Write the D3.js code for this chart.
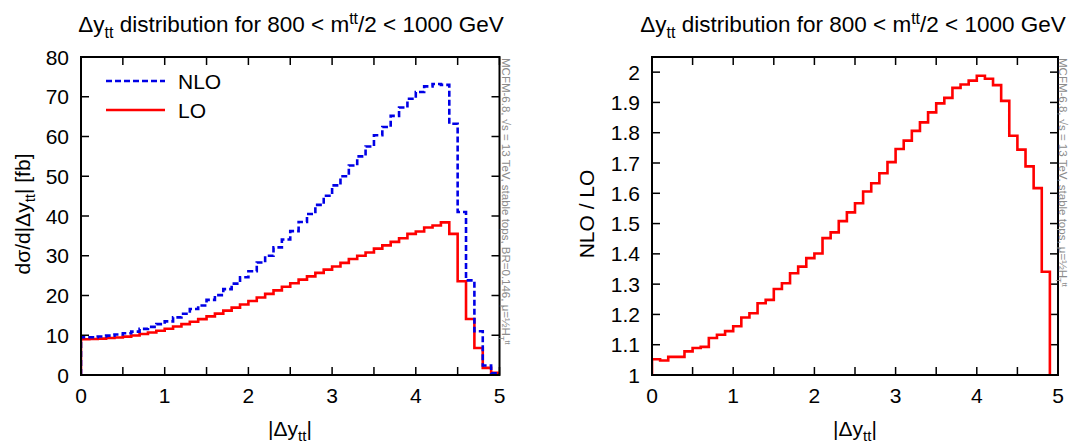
<!DOCTYPE html>
<html>
<head>
<meta charset="utf-8">
<script src="https://cdn.jsdelivr.net/npm/d3@7/dist/d3.min.js"></script>
<style>
  html, body { margin: 0; padding: 0; background: #fff; }
  svg { display: block; }
  text { font-family: "Liberation Sans", Arial, Helvetica, sans-serif; fill: #000; }
</style>
</head>
<body>
<svg id="chart" width="1070" height="443"></svg>
<script>
// ---------------- data ----------------
const binWidth = 0.1;
// LO differential cross section per bin of |Δy_tt| (fb), bins 0.0–0.1 ... 4.9–5.0
const loValues = [
  9.0, 9.05, 9.15, 9.3, 9.45, 9.65, 9.95, 10.3, 10.7, 11.15,
  11.65, 12.2, 12.8, 13.4, 14.05, 14.75, 15.45, 16.2, 16.95, 17.75,
  18.6, 19.5, 20.4, 21.3, 22.2, 23.1, 24.0, 24.8, 25.7, 26.5,
  27.3, 28.2, 29.2, 30.0, 30.8, 31.8, 32.6, 33.5, 34.4, 35.5,
  36.1, 37.1, 37.6, 38.4, 35.5, 23.6, 14.1, 6.8, 1.8, 0.55
];
// NLO differential cross section (fb)
const nloValues = [
  9.5, 9.5, 9.7, 9.9, 10.2, 10.5, 10.9, 11.6, 12.1, 12.8,
  13.5, 14.5, 15.4, 16.6, 17.5, 18.9, 20.1, 21.6, 23.0, 24.6,
  26.1, 28.3, 30.0, 32.1, 34.1, 36.2, 38.5, 40.5, 42.8, 45.1,
  47.7, 50.0, 52.7, 55.0, 57.5, 60.3, 62.4, 65.2, 67.3, 69.5,
  71.2, 72.6, 73.2, 73.0, 63.2, 41.0, 23.8, 11.0, 2.4, 0.45
];
// NLO / LO ratio per bin
const ratioValues = [
  1.052, 1.048, 1.060, 1.060, 1.078, 1.089, 1.093, 1.122, 1.133, 1.145,
  1.161, 1.190, 1.204, 1.237, 1.248, 1.284, 1.303, 1.336, 1.358, 1.386,
  1.401, 1.452, 1.471, 1.508, 1.537, 1.567, 1.606, 1.633, 1.666, 1.703,
  1.746, 1.774, 1.806, 1.834, 1.867, 1.897, 1.915, 1.948, 1.959, 1.972,
  1.988, 1.978, 1.957, 1.905, 1.790, 1.744, 1.689, 1.617, 1.341, 0.80
];
const xTickValues = [0, 1, 2, 3, 4, 5];
const xMinorTicks = [0.5, 1.5, 2.5, 3.5, 4.5];
const leftYTicks = [0, 10, 20, 30, 40, 50, 60, 70, 80];
const rightYTicks = [1, 1.1, 1.2, 1.3, 1.4, 1.5, 1.6, 1.7, 1.8, 1.9, 2];
const seriesNames = ["NLO", "LO"];

// ---------------- helpers ----------------
const svg = d3.select("#chart");
const FONT = 21;
const SUB = 15;

function stepPoints(vals, base) {
  const pts = [[0, base]];
  vals.forEach((v, i) => pts.push([i * binWidth, v]));
  pts.push([vals.length * binWidth, vals[vals.length - 1]]);
  pts.push([vals.length * binWidth, base]);
  return pts;
}

function titleText(g, cx, y) {
  const t = g.append("text").attr("x", cx).attr("y", y)
    .attr("text-anchor", "middle").attr("font-size", 22.5);
  t.append("tspan").text("Δy");
  t.append("tspan").attr("dy", 6).attr("font-size", 16).text("tt");
  t.append("tspan").attr("dy", -6).text(" distribution for 800 < m");
  t.append("tspan").attr("dy", -8).attr("font-size", 16).text("tt");
  t.append("tspan").attr("dy", 8).text("/2 < 1000 GeV");
}

function xLabel(g, cx, y) {
  const t = g.append("text").attr("x", cx).attr("y", y)
    .attr("text-anchor", "middle").attr("font-size", FONT);
  t.append("tspan").text("|Δy");
  t.append("tspan").attr("dy", 5).attr("font-size", SUB).text("tt");
  t.append("tspan").attr("dy", -5).text("|");
}

function annotation(g, x, y, withBR) {
  const t = g.append("text")
    .attr("transform", `translate(${x},${y}) rotate(90)`)
    .attr("font-size", 11.5).style("fill", "#8c8c8c");
  t.append("tspan").text("MCFM-6.8, √s = 13 TeV, stable tops, " + (withBR ? "BR=0.146, " : "") + "μ=½H");
  t.append("tspan").attr("dy", 3).attr("font-size", 7.5).text("T");
  t.append("tspan").attr("dy", -6).attr("font-size", 7.5).text("tt");
}

function drawPanel(opts) {
  const { left, right, top, bottom, yDomain, yTicks, yFmt, id } = opts;
  const g = svg.append("g");
  const x = d3.scaleLinear().domain([0, 5]).range([left, right]);
  const y = d3.scaleLinear().domain(yDomain).range([bottom, top]);

  g.append("clipPath").attr("id", id).append("rect")
    .attr("x", left).attr("y", top).attr("width", right - left).attr("height", bottom - top);

  // ticks (inward, mirrored)
  const tickLen = 8;
  const allX = xTickValues.concat(xMinorTicks);
  const inner = yTicks.filter(v => v > yDomain[0] && v < yDomain[1]);
  const tg = g.append("g").attr("stroke", "#000").attr("stroke-width", 1.5);
  allX.forEach(v => {
    tg.append("line").attr("x1", x(v)).attr("x2", x(v)).attr("y1", bottom).attr("y2", bottom - tickLen);
    tg.append("line").attr("x1", x(v)).attr("x2", x(v)).attr("y1", top).attr("y2", top + tickLen);
  });
  inner.forEach(v => {
    tg.append("line").attr("x1", left).attr("x2", left + tickLen).attr("y1", y(v)).attr("y2", y(v));
    tg.append("line").attr("x1", right).attr("x2", right - tickLen).attr("y1", y(v)).attr("y2", y(v));
  });

  // tick labels
  xTickValues.forEach(v => {
    g.append("text").attr("x", x(v)).attr("y", bottom + 28)
      .attr("text-anchor", "middle").attr("font-size", FONT).text(v);
  });
  yTicks.forEach(v => {
    g.append("text").attr("x", left - 12).attr("y", y(v) + 7.5)
      .attr("text-anchor", "end").attr("font-size", FONT).text(yFmt(v));
  });

  return { g, x, y };
}

// ---------------- left panel ----------------
const L = drawPanel({ left: 81, right: 499.5, top: 57, bottom: 375,
  yDomain: [0, 80], yTicks: leftYTicks, yFmt: d => d, id: "clipL" });

const lineL = d3.line().x(d => L.x(d[0])).y(d => L.y(d[1])).curve(d3.curveStepAfter);
L.g.append("path").attr("clip-path", "url(#clipL)")
  .attr("d", lineL(stepPoints(loValues, 0)))
  .attr("fill", "none").attr("stroke", "#ff0000").attr("stroke-width", 2.6);
L.g.append("path").attr("clip-path", "url(#clipL)")
  .attr("d", lineL(stepPoints(nloValues, 0)))
  .attr("fill", "none").attr("stroke", "#0000e6").attr("stroke-width", 2.6)
  .attr("stroke-dasharray", "6,3");

// legend
const leg = [
  { name: seriesNames[0], color: "#0000e6", dash: "6,3", y: 81 },
  { name: seriesNames[1], color: "#ff0000", dash: null, y: 110 }
];
leg.forEach(d => {
  L.g.append("line").attr("x1", 106).attr("x2", 165).attr("y1", d.y).attr("y2", d.y)
    .attr("stroke", d.color).attr("stroke-width", 2.6)
    .attr("stroke-dasharray", d.dash);
  L.g.append("text").attr("x", 178).attr("y", d.y + 7.5)
    .attr("font-size", FONT).text(d.name);
});

// frame
L.g.append("rect").attr("x", 81).attr("y", 57).attr("width", 499.5 - 81).attr("height", 375 - 57)
  .attr("fill", "none").attr("stroke", "#000").attr("stroke-width", 2);

titleText(svg, 291, 32);
xLabel(svg, 290, 436);
{
  const t = svg.append("text").attr("transform", "translate(30,214) rotate(-90)")
    .attr("text-anchor", "middle").attr("font-size", FONT);
  t.append("tspan").text("dσ/d|Δy");
  t.append("tspan").attr("dy", 5).attr("font-size", SUB).text("tt");
  t.append("tspan").attr("dy", -5).text("| [fb]");
}
annotation(svg, 502, 58, true);

// ---------------- right panel ----------------
const R = drawPanel({ left: 652, right: 1058, top: 57, bottom: 375,
  yDomain: [1, 2.05], yTicks: rightYTicks, yFmt: d => d3.format("")(+d.toFixed(1)), id: "clipR" });

const lineR = d3.line().x(d => R.x(d[0])).y(d => R.y(d[1])).curve(d3.curveStepAfter);
R.g.append("path").attr("clip-path", "url(#clipR)")
  .attr("d", lineR(stepPoints(ratioValues, 0)))
  .attr("fill", "none").attr("stroke", "#ff0000").attr("stroke-width", 2.6);

R.g.append("rect").attr("x", 652).attr("y", 57).attr("width", 1058 - 652).attr("height", 375 - 57)
  .attr("fill", "none").attr("stroke", "#000").attr("stroke-width", 2);

titleText(svg, 853, 32);
xLabel(svg, 855, 436);
svg.append("text").attr("transform", "translate(594,214) rotate(-90)")
  .attr("text-anchor", "middle").attr("font-size", FONT).text("NLO / LO");
annotation(svg, 1059, 58, false);
</script>
</body>
</html>
